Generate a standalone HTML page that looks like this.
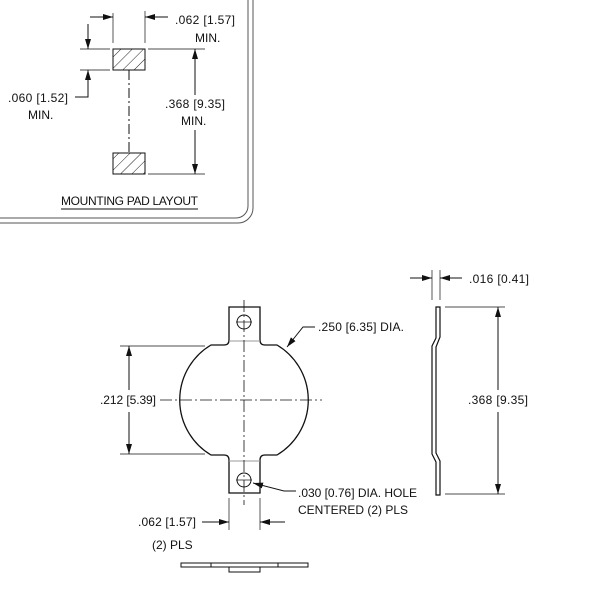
<!DOCTYPE html>
<html><head><style>html,body{margin:0;padding:0;background:#fff}svg{display:block}text{font-family:"Liberation Sans",sans-serif;font-size:12px;fill:#111}</style></head>
<body>
<svg width="600" height="600" viewBox="0 0 600 600" xmlns="http://www.w3.org/2000/svg">
<defs>
<marker id="a" viewBox="0 0 10 6" refX="10" refY="3" markerWidth="10" markerHeight="6" orient="auto" markerUnits="userSpaceOnUse"><path d="M0,0L10,3L0,6z" fill="#111"/></marker>
<pattern id="h" width="8" height="8" patternUnits="userSpaceOnUse" patternTransform="rotate(45)"><line x1="0" y1="0" x2="0" y2="8" stroke="#222" stroke-width="1"/></pattern>
</defs>
<g fill="none" stroke="#111" stroke-width="1">
<path d="M248,0V206A12,12 0 0 1 236,218H0" stroke="#555"/>
<path d="M253,0V208A15,15 0 0 1 238,223H0" stroke="#555"/>
<rect x="113" y="49" width="32" height="21" fill="url(#h)" stroke="#111"/>
<rect x="113" y="153" width="32" height="21" fill="url(#h)" stroke="#111"/>
<line x1="129" y1="70" x2="129" y2="153" stroke-dasharray="10,3,2,3"/>
<line x1="113" y1="13" x2="113" y2="43" stroke-width="0.7"/>
<line x1="145" y1="11" x2="145" y2="43" stroke-width="0.7"/>
<line x1="90" y1="17" x2="113" y2="17" marker-end="url(#a)"/>
<line x1="168" y1="17" x2="145" y2="17" marker-end="url(#a)"/>
<line x1="80" y1="49" x2="110" y2="49" stroke-width="0.7"/>
<line x1="80" y1="70" x2="110" y2="70" stroke-width="0.7"/>
<line x1="88" y1="24" x2="88" y2="49" marker-end="url(#a)"/>
<path d="M75,97H88V70" marker-end="url(#a)"/>
<line x1="148" y1="49" x2="205" y2="49" stroke-width="0.7"/>
<line x1="148" y1="174" x2="205" y2="174" stroke-width="0.7"/>
<line x1="195" y1="95" x2="195" y2="49" marker-end="url(#a)"/>
<line x1="195" y1="130" x2="195" y2="174" marker-end="url(#a)"/>
<line x1="61" y1="209" x2="198" y2="209"/>
<path d="M229,307H260V340Q260,345 265,345H277A64,64 0 0 1 277,455H265Q260,455 260,460V493H229V460Q229,455 224,455H211A64,64 0 0 1 211,345H224Q229,345 229,340Z" stroke-width="1.3"/>
<circle cx="244" cy="322" r="7"/>
<circle cx="244" cy="480" r="7"/>
<line x1="236" y1="322" x2="252" y2="322" stroke-width="0.7"/>
<line x1="236" y1="480" x2="252" y2="480" stroke-width="0.7"/>
<line x1="229" y1="341" x2="260" y2="341" stroke="#999"/>
<line x1="229" y1="461" x2="260" y2="461" stroke="#999"/>
<line x1="244" y1="300" x2="244" y2="505" stroke-dasharray="12,3,2,3" stroke-width="0.8"/>
<line x1="160" y1="400" x2="322" y2="400" stroke-dasharray="12,3,2,3" stroke-width="0.8"/>
<line x1="120" y1="346" x2="205" y2="346" stroke-width="0.7"/>
<line x1="120" y1="454" x2="205" y2="454" stroke-width="0.7"/>
<line x1="129" y1="390" x2="129" y2="346" marker-end="url(#a)"/>
<line x1="129" y1="412" x2="129" y2="454" marker-end="url(#a)"/>
<path d="M315,327H303L287,347" marker-end="url(#a)"/>
<path d="M296,491H284L253,483" marker-end="url(#a)"/>
<line x1="229" y1="498" x2="229" y2="530" stroke-width="0.7"/>
<line x1="260" y1="498" x2="260" y2="530" stroke-width="0.7"/>
<line x1="202" y1="522" x2="229" y2="522" marker-end="url(#a)"/>
<line x1="285" y1="522" x2="260" y2="522" marker-end="url(#a)"/>
<rect x="181" y="563" width="127" height="4"/>
<rect x="229" y="567" width="31" height="5"/>
<line x1="211" y1="563" x2="211" y2="567"/><line x1="278" y1="563" x2="278" y2="567"/>
<path d="M436,307H440V337L436,347V453L440,461V495H436V462L432,454V346L436,338Z" stroke-width="1.2"/>
<line x1="432" y1="270" x2="432" y2="300" stroke-width="0.7"/>
<line x1="440" y1="270" x2="440" y2="300" stroke-width="0.7"/>
<line x1="410" y1="278" x2="432" y2="278" marker-end="url(#a)"/>
<line x1="462" y1="278" x2="440" y2="278" marker-end="url(#a)"/>
<line x1="445" y1="307" x2="505" y2="307" stroke-width="0.7"/>
<line x1="445" y1="494" x2="505" y2="494" stroke-width="0.7"/>
<line x1="498" y1="390" x2="498" y2="307" marker-end="url(#a)"/>
<line x1="498" y1="412" x2="498" y2="494" marker-end="url(#a)"/>
</g>
<text x="175" y="24" textLength="60">.062 [1.57]</text>
<text x="195" y="42">MIN.</text>
<text x="8" y="102" textLength="60">.060 [1.52]</text>
<text x="28" y="119">MIN.</text>
<text x="165" y="108" textLength="60">.368 [9.35]</text>
<text x="181" y="125">MIN.</text>
<text x="61" y="205" textLength="137">MOUNTING PAD LAYOUT</text>
<text x="318" y="331" textLength="86">.250 [6.35] DIA.</text>
<text x="100" y="404" textLength="56">.212 [5.39]</text>
<text x="298" y="497" textLength="119">.030 [0.76] DIA. HOLE</text>
<text x="298" y="514">CENTERED (2) PLS</text>
<text x="138" y="526" textLength="58">.062 [1.57]</text>
<text x="152" y="549">(2) PLS</text>
<text x="469" y="283" textLength="60">.016 [0.41]</text>
<text x="468" y="404" textLength="60">.368 [9.35]</text>
</svg>
</body></html>
